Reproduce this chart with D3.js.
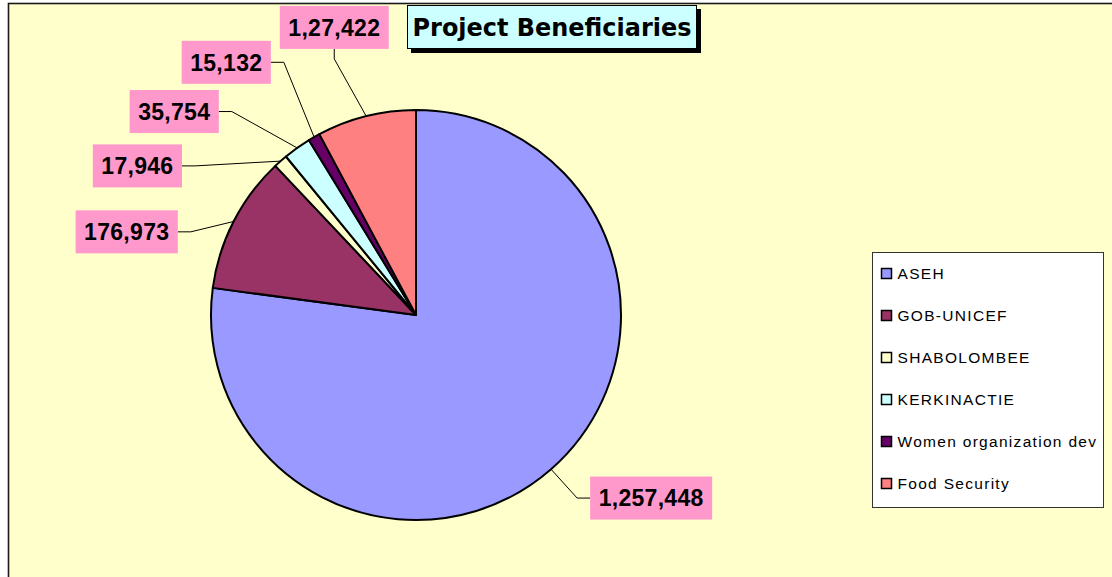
<!DOCTYPE html>
<html>
<head>
<meta charset="utf-8">
<script src="https://cdn.jsdelivr.net/npm/d3@7"></script>
<style>
body { margin: 0; background: #fff; }
svg { display: block; }
</style>
</head>
<body>
<script>
var projects = ['ASEH', 'GOB-UNICEF', 'SHABOLOMBEE', 'KERKINACTIE', 'Women organization dev', 'Food Security'];
var beneficiaries = [1257448, 176973, 17946, 35754, 15132, 127422];
var valueLabels = ['1,257,448', '176,973', '17,946', '35,754', '15,132', '1,27,422'];
var sliceColors = ['#9999FF', '#993366', '#FFFFCC', '#CCFFFF', '#660066', '#FF8080'];

// hand placed label offsets (degrees, radius) like in the original sheet
var labelNudge = [-10.9, -11.1, -20.5, -14.5, -7.1, -1.8];
var labelRadius = [298, 301, 316, 316, 316, 299];

var width = 1112, height = 577;
var cx = 416, cy = 315, radius = 205;
var rad = Math.PI / 180;

var svg = d3.select('body').append('svg')
    .attr('width', width)
    .attr('height', height);

// chart area
svg.append('rect')
    .attr('x', 8.5).attr('y', 3.5)
    .attr('width', width + 10).attr('height', height + 10)
    .style('fill', '#FFFFCC')
    .style('stroke', '#1a1a1a')
    .style('stroke-width', 1.6);

var data = projects.map(function(p, i) {
    return { name: p, value: beneficiaries[i], label: valueLabels[i], color: sliceColors[i], i: i };
});

var pie = d3.pie()
    .sort(null)
    .value(function(d) { return d.value; });

var arc = d3.arc()
    .innerRadius(0)
    .outerRadius(radius);

var arcs = pie(data);

var g = svg.append('g')
    .attr('transform', 'translate(' + cx + ',' + cy + ')');

g.selectAll('.slice')
    .data(arcs)
    .enter().append('path')
    .attr('class', 'slice')
    .attr('d', arc)
    .style('fill', function(d) { return d.data.color; })
    .style('stroke', '#000')
    .style('stroke-width', 2)
    .style('stroke-linejoin', 'round');

// labels
var lines = g.append('g');
var labels = g.selectAll('.lbl')
    .data(arcs)
    .enter().append('g')
    .attr('class', 'lbl');

labels.each(function(d) {
    var mid = (d.startAngle + d.endAngle) / 2;
    var la = mid + labelNudge[d.data.i] * rad;
    var lr = labelRadius[d.data.i];
    var lx = lr * Math.sin(la), ly = -lr * Math.cos(la);
    var sel = d3.select(this);

    var t = sel.append('text')
        .attr('x', lx)
        .attr('y', ly)
        .attr('text-anchor', 'middle')
        .attr('dy', '0.36em')
        .style('font-family', '"Liberation Sans", Arial, sans-serif')
        .style('font-weight', 'bold')
        .style('font-size', '23px')
        .style('letter-spacing', '0.3px')
        .style('fill', '#000')
        .text(d.data.label);

    var tw = t.node().getComputedTextLength();
    var bw = tw + 17, bh = 43;
    sel.insert('rect', 'text')
        .attr('x', lx - bw / 2)
        .attr('y', ly - bh / 2)
        .attr('width', bw)
        .attr('height', bh)
        .style('fill', '#FF99CC');

    // leader line to the slice edge
    var px = radius * Math.sin(mid), py = -radius * Math.cos(mid);
    var pts;
    if (Math.abs(Math.sin(la)) < 0.3) {
        var sy = ly + bh / 2 * (ly < py ? 1 : -1);
        pts = [[lx, sy], [lx, sy + (ly < py ? 10 : -10)], [px, py]];
    } else if (lx < px) {
        pts = [[lx + bw / 2, ly], [lx + bw / 2 + 13, ly], [px, py]];
    } else {
        pts = [[lx - bw / 2, ly], [lx - bw / 2 - 13, ly], [px, py]];
    }
    lines.append('path')
        .attr('d', d3.line()(pts))
        .style('fill', 'none')
        .style('stroke', '#000')
        .style('stroke-width', 1);
});

// title
var title = svg.append('g').attr('transform', 'translate(407,5)');
title.append('rect')
    .attr('x', 4).attr('y', 4)
    .attr('width', 290).attr('height', 44)
    .style('fill', '#000');
title.append('rect')
    .attr('x', 0.5).attr('y', 0.5)
    .attr('width', 289).attr('height', 43)
    .style('fill', '#CCFFFF')
    .style('stroke', '#000')
    .style('stroke-width', 1);
title.append('text')
    .attr('x', 145).attr('y', 31)
    .attr('text-anchor', 'middle')
    .attr('textLength', 279)
    .attr('lengthAdjust', 'spacingAndGlyphs')
    .style('font-family', '"DejaVu Sans", Verdana, sans-serif')
    .style('font-weight', 'bold')
    .style('font-size', '25px')
    .text('Project Beneficiaries');

// legend
var legend = svg.append('g').attr('transform', 'translate(872,252)');
legend.append('rect')
    .attr('x', 0.5).attr('y', 0.5)
    .attr('width', 231).attr('height', 255)
    .style('fill', '#fff')
    .style('stroke', '#333')
    .style('stroke-width', 1);

var ly = d3.scalePoint()
    .domain(projects)
    .range([21.5, 231.5]);

var items = legend.selectAll('.item')
    .data(data)
    .enter().append('g')
    .attr('class', 'item')
    .attr('transform', function(d) { return 'translate(0,' + ly(d.name) + ')'; });

items.append('rect')
    .attr('x', 9.5).attr('y', -5)
    .attr('width', 10).attr('height', 10)
    .style('fill', function(d) { return d.color; })
    .style('stroke', '#000')
    .style('stroke-width', 1.5);

items.append('text')
    .attr('x', 25.5).attr('y', 0)
    .attr('dy', '0.36em')
    .style('font-family', '"Liberation Sans", Arial, sans-serif')
    .style('font-size', '15.5px')
    .style('letter-spacing', '1.3px')
    .style('fill', '#000')
    .text(function(d) { return d.name; });
</script>
</body>
</html>
